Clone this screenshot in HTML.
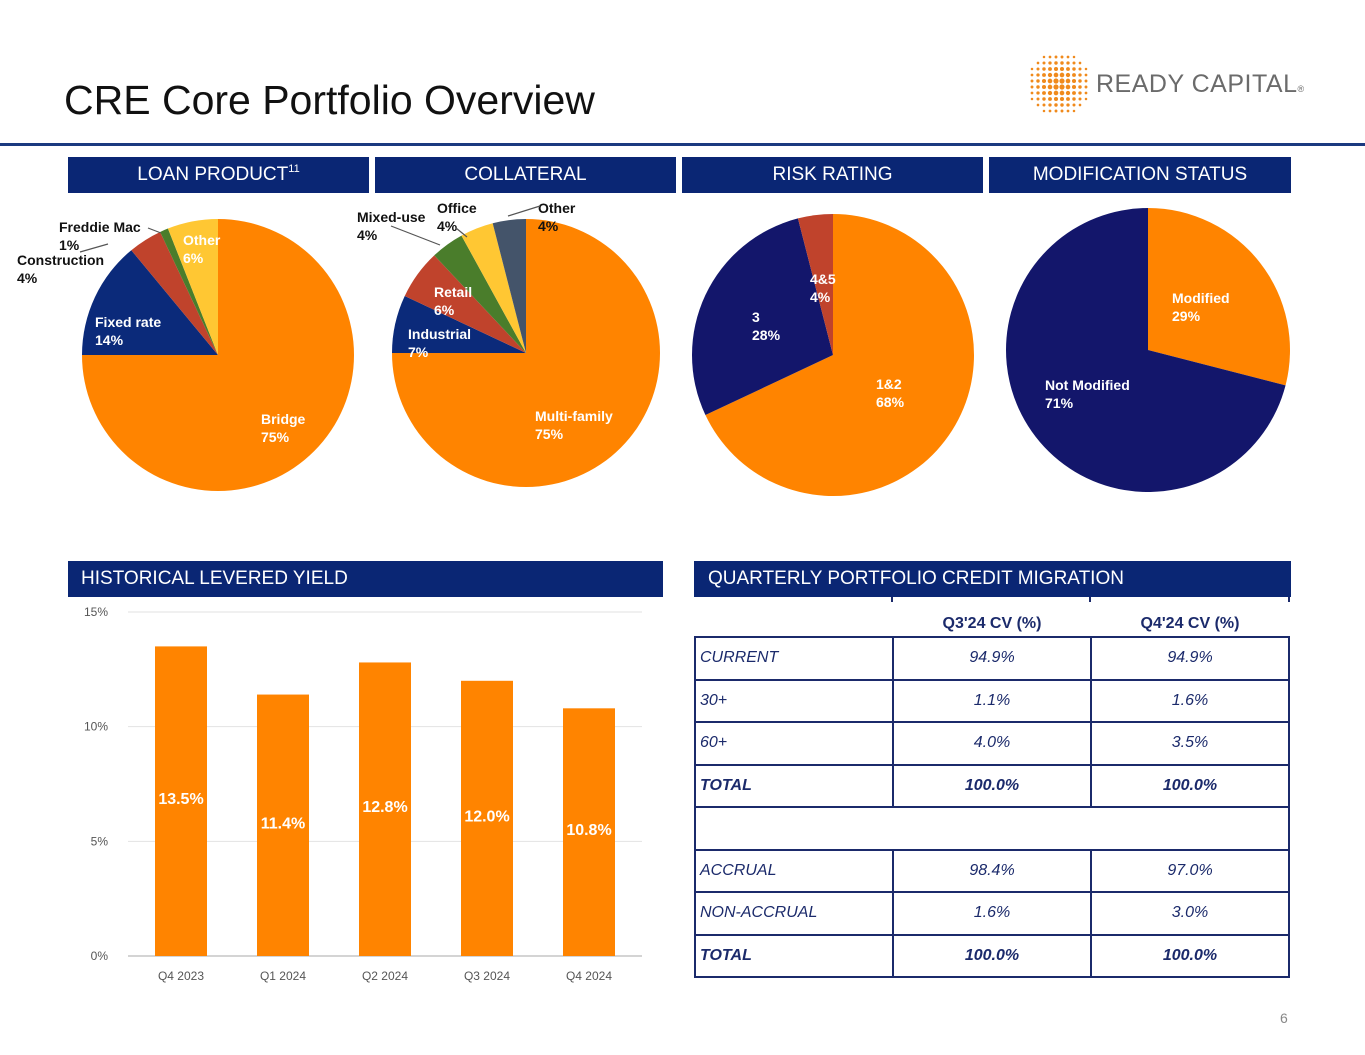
<!DOCTYPE html>
<html><head><meta charset="utf-8"><style>
body{margin:0;width:1365px;height:1055px;background:#fff;font-family:"Liberation Sans",Arial,sans-serif;position:relative;overflow:hidden}
.abs{position:absolute}
.hdr{position:absolute;background:#0a2674;color:#fff;font-size:19px;line-height:36px;height:36px;text-align:center}
svg text{font-family:"Liberation Sans",Arial,sans-serif}
table{border-collapse:collapse;position:absolute;left:694px;top:612px;font-size:16px;color:#1b2a6b;table-layout:fixed}
td{border:2px solid #1b2a6b;height:40.5px;padding:0;font-style:italic;text-align:center}
td:first-child{text-align:left;padding-left:4px}
tr.h td{border:none;border-bottom:2px solid #1b2a6b;height:24px;font-style:normal;font-weight:bold}
tr.b td{font-weight:bold}
</style></head><body>
<div class="abs" style="left:64px;top:77px;font-size:41px;color:#111">CRE Core Portfolio Overview</div>
<div class="abs" style="left:0;top:143px;width:1365px;height:3px;background:#1b3a80"></div>
<div class="abs" style="left:1028px;top:54px;width:290px;height:60px">
<svg width="62" height="60">
<g fill="#f08a1c" id="dots"></g></svg>
<span style="position:absolute;left:68px;top:16px;font-size:25px;color:#6b6b6b;letter-spacing:0.5px">READY CAPITAL<span style="font-size:9px">®</span></span>
</div>
<div class="hdr" style="left:68px;top:157px;width:301px">LOAN PRODUCT<span style="position:relative;font-size:11px;top:-8px">11</span></div>
<div class="hdr" style="left:375px;top:157px;width:301px">COLLATERAL</div>
<div class="hdr" style="left:682px;top:157px;width:301px">RISK RATING</div>
<div class="hdr" style="left:989px;top:157px;width:302px">MODIFICATION STATUS</div>
<div class="hdr" style="left:68px;top:561px;width:595px;text-align:left;padding-left:13px;box-sizing:border-box">HISTORICAL LEVERED YIELD</div>
<div class="hdr" style="left:694px;top:561px;width:597px;text-align:left;padding-left:14px;box-sizing:border-box">QUARTERLY PORTFOLIO CREDIT MIGRATION</div>
<svg class="abs" style="left:0;top:0" width="1365" height="1055" id="main"></svg>
<table style="width:596px">
<colgroup><col style="width:198px"><col style="width:198px"><col style="width:198px"></colgroup>
<tr class="h"><td></td><td>Q3'24 CV (%)</td><td>Q4'24 CV (%)</td></tr>
<tr><td>CURRENT</td><td>94.9%</td><td>94.9%</td></tr>
<tr><td>30+</td><td>1.1%</td><td>1.6%</td></tr>
<tr><td>60+</td><td>4.0%</td><td>3.5%</td></tr>
<tr class="b"><td>TOTAL</td><td>100.0%</td><td>100.0%</td></tr>
<tr><td colspan="3"></td></tr>
<tr><td>ACCRUAL</td><td>98.4%</td><td>97.0%</td></tr>
<tr><td>NON-ACCRUAL</td><td>1.6%</td><td>3.0%</td></tr>
<tr class="b"><td>TOTAL</td><td>100.0%</td><td>100.0%</td></tr>
</table>
<div class="abs" style="left:1280px;top:1010px;font-size:14px;color:#888">6</div>
<script>
const NS="http://www.w3.org/2000/svg";
const loanLabels=["Bridge","Fixed rate","Construction","Freddie Mac","Other"];
const loanValues=[75,14,4,1,6];
const collLabels=["Multi-family","Industrial","Retail","Mixed-use","Office","Other"];
const collValues=[75,7,6,4,4,4];
const riskLabels=["1&2","3","4&5"];
const riskValues=[68,28,4];
const modLabels=["Modified","Not Modified"];
const modValues=[29,71];
const yieldCats=["Q4 2023","Q1 2024","Q2 2024","Q3 2024","Q4 2024"];
const yieldValues=[13.5,11.4,12.8,12.0,10.8];
const yieldTicks=[0,5,10,15];

const svg=document.getElementById('main');
function el(t,a,p){const e=document.createElementNS(NS,t);for(const k in a)e.setAttribute(k,a[k]);(p||svg).appendChild(e);return e;}
function txt(x,y,s,a,p){const t=el('text',Object.assign({x:x,y:y},a),p);t.textContent=s;return t;}

const dg=document.getElementById('dots');
for(let i=0;i<10;i++)for(let j=0;j<10;j++){const dx=i-4.5,dy=j-4.5;const d=Math.hypot(dx,dy);if(d>5.2)continue;
 const c=document.createElementNS(NS,'circle');c.setAttribute('cx',4+i*6);c.setAttribute('cy',3+j*6);c.setAttribute('r',Math.max(1,2.8-d*0.3));dg.appendChild(c);}

function pie(name,cx,cy,r,labels,values,colors,lab){
 const tot=values.reduce((a,b)=>a+b,0);let a0=0;
 values.forEach((v,i)=>{const a1=a0+v/tot*2*Math.PI;
  const x0=cx+r*Math.sin(a0),y0=cy-r*Math.cos(a0),x1=cx+r*Math.sin(a1),y1=cy-r*Math.cos(a1);
  const p=el('path',{d:`M${cx},${cy}L${x0},${y0}A${r},${r} 0 ${a1-a0>Math.PI?1:0} 1 ${x1},${y1}Z`,fill:colors[i]});
  
  
  a0=a1;});
 values.forEach((v,i)=>{
  const L=lab[i];const g=el('g',{});
  
  
  txt(L[0],L[1],labels[i],{'font-size':14,'font-weight':'bold',fill:L[2]},g);
  txt(L[0],L[1]+18,Math.round(v/tot*100)+'%',{'font-size':14,'font-weight':'bold',fill:L[2]},g);
  if(L[3])el('line',{x1:L[3][0],y1:L[3][1],x2:L[3][2],y2:L[3][3],stroke:'#555','stroke-width':1.2},g);
 });
}
const OR="#ff8400",NV="#0b2a7a",RD="#c0432c",GR="#4a7d2b",YL="#ffc733",SL="#44546a";
pie('loan-product',218,355,136,loanLabels,loanValues,[OR,NV,RD,GR,YL],
 [[261,424,'#fff'],[95,327,'#fff'],[17,265,'#111',[80,252,108,244]],[59,232,'#111',[148,228,161,233]],[183,245,'#fff']]);
pie('collateral',526,353,134,collLabels,collValues,[OR,NV,RD,GR,YL,SL],
 [[535,421,'#fff'],[408,339,'#fff'],[434,297,'#fff'],[357,222,'#111',[391,226,440,245]],[437,213,'#111',[456,228,467,237]],[538,213,'#111',[540,206,508,216]]]);
pie('risk-rating',833,355,141,riskLabels,riskValues,[OR,"#13166b",RD],
 [[876,389,'#fff'],[752,322,'#fff'],[810,284,'#fff']]);
pie('modification',1148,350,142,modLabels,modValues,[OR,"#13166b"],
 [[1172,303,'#fff'],[1045,390,'#fff']]);

const y0=956,yTop=612,ymax=15,x0=128,x1=642;
const ys=v=>y0-(v/ymax)*(y0-yTop);
const xs=i=>181+i*102;
yieldTicks.forEach(t=>{const l=el('line',{x1:x0,x2:x1,y1:ys(t),y2:ys(t),stroke:t?'#e2e2e2':'#aaa','stroke-width':1});
 
 const tx=txt(108,ys(t)+4,t+'%',{'font-size':12,fill:'#555','text-anchor':'end'});
 });
yieldValues.forEach((v,i)=>{
 const b=el('rect',{x:xs(i)-26,y:ys(v),width:52,height:y0-ys(v),fill:OR});
 
 
 const lt=txt(xs(i),ys(v)+(y0-ys(v))/2+3,v.toFixed(1)+'%',{'font-size':16,'font-weight':'bold',fill:'#fff','text-anchor':'middle'});
 
 const ct=txt(xs(i),980,yieldCats[i],{'font-size':12,fill:'#555','text-anchor':'middle'});
 
});
[892,1090,1289].forEach(x=>el('line',{x1:x,x2:x,y1:597,y2:602,stroke:'#1b2a6b','stroke-width':2}));
</script>
</body></html>
